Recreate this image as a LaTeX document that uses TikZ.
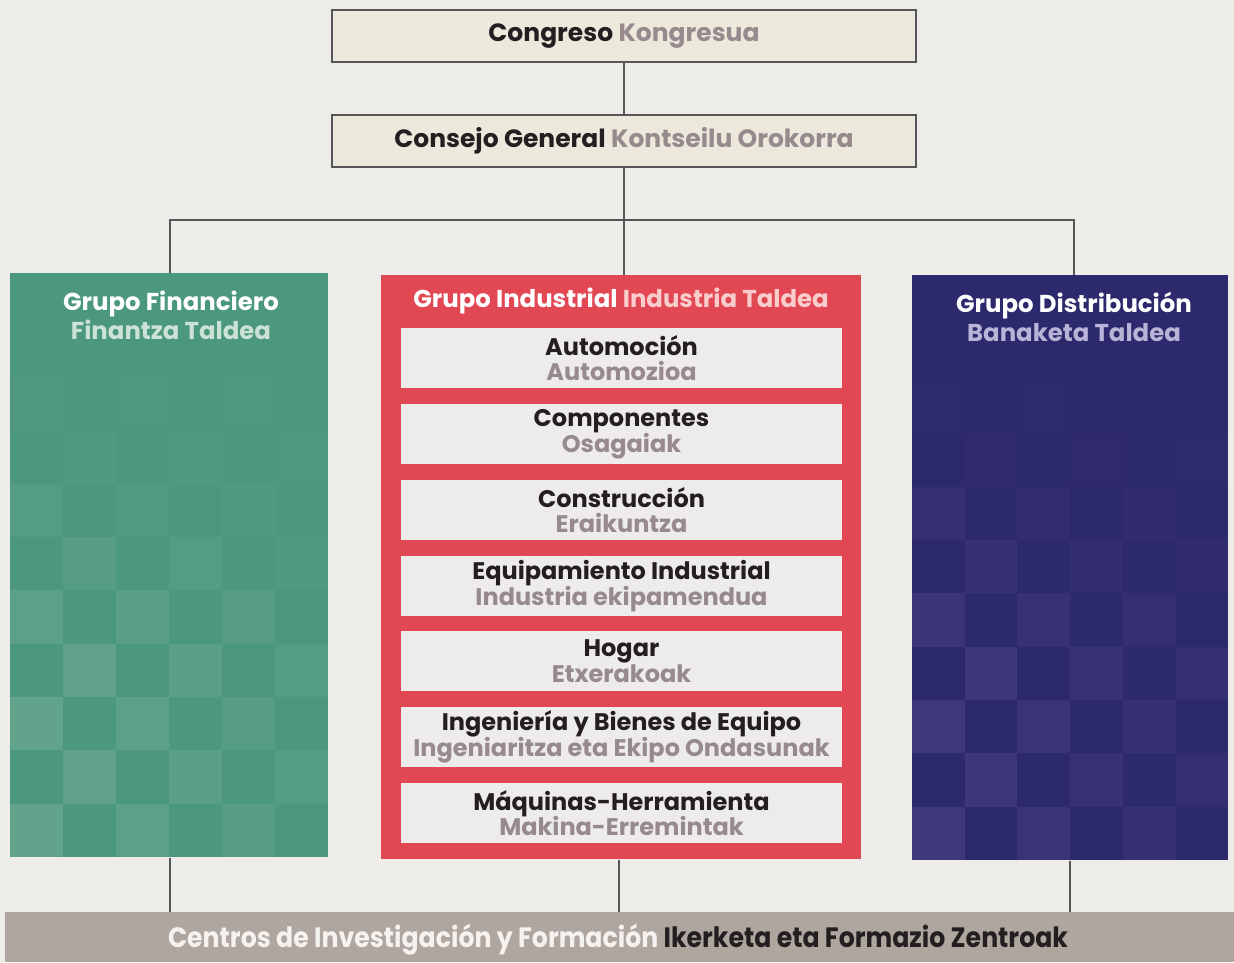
\documentclass[tikz,border=0pt]{standalone}
\usepackage{fontspec}
\setmainfont{Poppins}
\definecolor{bg}{RGB}{238,236,233}
\definecolor{beige}{RGB}{236,232,220}
\definecolor{frame}{RGB}{85,85,88}
\definecolor{dk}{RGB}{35,31,32}
\definecolor{gr}{RGB}{150,138,140}
\definecolor{green}{RGB}{76,152,126}
\definecolor{greenl}{RGB}{108,168,146}
\definecolor{greentx}{RGB}{205,226,214}
\definecolor{red}{RGB}{226,72,84}
\definecolor{redtx}{RGB}{250,205,205}
\definecolor{inbox}{RGB}{238,236,234}
\definecolor{blue}{RGB}{44,41,108}
\definecolor{bluel}{RGB}{72,63,128}
\definecolor{bluetx}{RGB}{185,180,215}
\definecolor{bar}{RGB}{176,166,160}
\definecolor{bartx}{RGB}{245,242,240}
\newcommand{\tightls}{\lineskiplimit -20pt\relax}
\tikzset{
  topbox/.style={draw=frame, line width=1pt, fill=beige, minimum width=292pt, minimum height=26pt, inner sep=0pt, font=\fontsize{12.5}{15}\selectfont\bfseries},
  groupbox/.style={minimum width=#1, minimum height=292pt, inner sep=0pt, anchor=north west},
  title/.style={font=\fontsize{12.2}{14.5}\selectfont\bfseries\tightls, align=center, inner sep=0pt},
  inbox/.style={fill=inbox, minimum width=220.5pt, minimum height=30pt, inner sep=0pt, align=center, font=\fontsize{12}{12.8}\selectfont\bfseries\tightls},
  conn/.style={draw=frame, line width=0.8pt},
}
\newcommand{\dkt}[1]{\textcolor{dk}{#1}}
\newcommand{\grt}[1]{\textcolor{gr}{#1}}
\begin{document}
\begin{tikzpicture}[x=0.5pt,y=-0.5pt]
\useasboundingbox[fill=bg] (0,0) rectangle (1234,962);
% top boxes
\node[topbox] (cong) at (624,36) {\dkt{Congreso} \grt{Kongresua}};
\node[topbox] (cons) at (624,141) {\dkt{Consejo General} \grt{Kontseilu Orokorra}};
% groups
\node[groupbox=159pt, fill=green] (fin) at (10,273) {};
\node[groupbox=240pt, fill=red] (ind) at (381,275) {};
\node[groupbox=158pt, fill=blue, minimum height=292.5pt] (dis) at (912,275) {};
% checker patterns
\foreach \c in {0,...,5}{
  \foreach \r in {0,...,8}{
    \pgfmathtruncatemacro\parity{mod(\c+\r,2)}
    \ifnum\parity=0
      \pgfmathsetmacro\op{0.7*max(0.1,min(1,(\r)/5))*(1-0.12*\c)}
      \fill[greenl, opacity=\op] (10+53*\c,377+53.33*\r) rectangle ++(53,53.33);
      \fill[bluel, opacity=\op] (912+52.7*\c,380+53.33*\r) rectangle ++(52.7,53.33);
    \fi
  }
}
% group titles
\node[title] (fint) at (171,315) {\textcolor{white}{Grupo Financiero}\\\textcolor{greentx}{Finantza Taldea}};
\node[title] (indt) at (621,301) {\textcolor{white}{Grupo Industrial} \textcolor{redtx}{Industria Taldea}};
\node[title] (dist) at (1074,317) {\textcolor{white}{Grupo Distribución}\\\textcolor{bluetx}{Banaketa Taldea}};
% industrial sub-boxes
\node[inbox] (b1) at (621.5,358) {\dkt{Automoción}\\\grt{Automozioa}};
\node[inbox] (b2) at (621.5,434) {\dkt{Componentes}\\\grt{Osagaiak}};
\node[inbox] (b3) at (621.5,510) {\dkt{Construcción}\\\grt{Eraikuntza}};
\node[inbox] (b4) at (621.5,586) {\dkt{Equipamiento Industrial}\\\grt{Industria ekipamendua}};
\node[inbox] (b5) at (621.5,661) {\dkt{Hogar}\\\grt{Etxerakoak}};
\node[inbox] (b6) at (621.5,737) {\dkt{Ingeniería y Bienes de Equipo}\\\grt{Ingeniaritza eta Ekipo Ondasunak}};
\node[inbox] (b7) at (621.5,813) {\dkt{Máquinas-Herramienta}\\\grt{Makina-Erremintak}};
% bottom bar
\node[fill=bar, minimum width=614.5pt, minimum height=25pt, inner sep=0pt, anchor=north west] (cen) at (5,912) {};
\node[font=\fontsize{14}{16}\selectfont\bfseries, inner sep=0pt] (cent) at (618,940) {\scalebox{0.9}[1]{\textcolor{bartx}{Centros de Investigación y Formación} \textcolor{dk}{Ikerketa eta Formazio Zentroak}}};
% connectors
\coordinate (hl) at (170,220);
\coordinate (hr) at (1074,220);
\coordinate (hm) at (624,220);
\coordinate (vm) at (619,0);
\coordinate (vr) at (1070,0);
\draw[conn] (cong.south) -- (cons.north);
\draw[conn] (cons.south) -- (hm);
\draw[conn] (fin.north -| hl) -- (hl) -- (hr) -- (dis.north -| hr);
\draw[conn] (hm) -- (ind.north -| hm);
\draw[conn] (fin.south -| hl) -- (cen.north -| hl);
\draw[conn] (ind.south -| vm) -- (cen.north -| vm);
\draw[conn] (dis.south -| vr) -- (cen.north -| vr);
\end{tikzpicture}
\end{document}
